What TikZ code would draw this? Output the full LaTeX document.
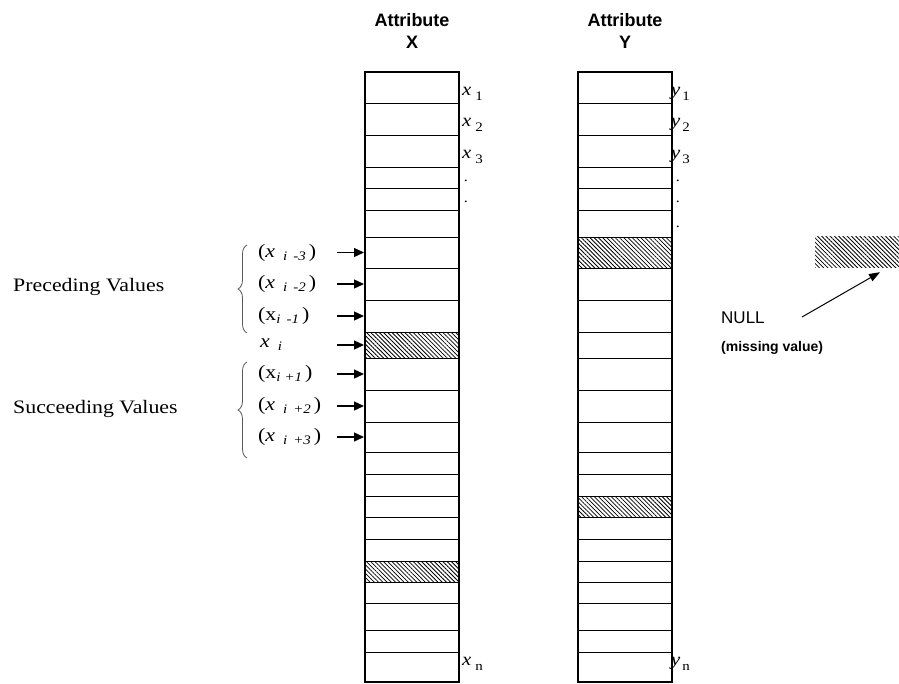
\documentclass[tikz,border=0pt]{standalone}
\usepackage{fontspec}
\setmainfont{Liberation Serif}
\newfontfamily\hdrfont{Liberation Sans}
\newfontfamily\wideserif[FakeStretch=1.15]{Liberation Serif}
\usetikzlibrary{arrows.meta,patterns.meta,decorations.pathreplacing}
\newcommand\lowsub[1]{\raisebox{-3pt}{\fontsize{13}{13}\selectfont\itshape #1}}
\newcommand\rsub[1]{\raisebox{-5pt}{\fontsize{13}{13}\selectfont #1}}
\tikzset{
  cell/.style={draw=black,line width=0.9pt,minimum width=94pt,inner sep=0pt,outer sep=0pt,rectangle},
  cellplain/.style={},
  cellhatch/.style={pattern={Lines[angle=-45,distance=3pt,line width=0.8pt]}},
  hdr/.style={font=\hdrfont\bfseries\fontsize{18}{22}\selectfont,align=center,inner sep=0pt},
  rlab/.style={font=\wideserif\fontsize{18}{18}\selectfont,anchor=base west,inner sep=0pt},
  llab/.style={font=\wideserif\fontsize{19}{19}\selectfont,anchor=west,inner sep=0pt},
  grp/.style={font=\wideserif\fontsize{19}{19}\selectfont,anchor=west,inner sep=0pt},
  dotlab/.style={font=\wideserif\fontsize{14}{14}\selectfont,inner sep=0pt},
  arr/.style={line width=1.3pt,-{Triangle[length=10pt,width=9pt]}},
  bracestyle/.style={draw=black!65,line width=0.8pt,decorate,decoration={brace,amplitude=9pt}},
}
\begin{document}
\begin{tikzpicture}[x=1pt,y=-1pt]
\useasboundingbox (0,0) rectangle (899,683);
% columns
\foreach \t/\b/\xs/\ys [count=\i] in {
  72/103/cellplain/cellplain,103/135/cellplain/cellplain,135/167/cellplain/cellplain,
  167/188/cellplain/cellplain,188/210/cellplain/cellplain,210/237/cellplain/cellplain,
  237/268/cellplain/cellhatch,268/300/cellplain/cellplain,300/332/cellplain/cellplain,
  332/358/cellhatch/cellplain,358/390/cellplain/cellplain,390/422/cellplain/cellplain,
  422/452/cellplain/cellplain,452/474/cellplain/cellplain,474/496/cellplain/cellplain,
  496/517/cellplain/cellhatch,517/539/cellplain/cellplain,539/561/cellplain/cellplain,
  561/582/cellhatch/cellplain,582/603/cellplain/cellplain,603/630/cellplain/cellplain,
  630/652/cellplain/cellplain,652/682/cellplain/cellplain}
{
  \node[cell,\xs,minimum height={(\b-\t)*1pt}] (X\i) at (412,{(\t+\b)/2}) {};
  \node[cell,\ys,minimum height={(\b-\t)*1pt}] (Y\i) at (625,{(\t+\b)/2}) {};
}
\draw[line width=1.2pt] (X1.north west) rectangle (X23.south east);
\draw[line width=1.2pt] (Y1.north west) rectangle (Y23.south east);
% headers
\node[hdr] (hx) at (412,31) {Attribute\\X};
\node[hdr] (hy) at (625,31) {Attribute\\Y};
% right labels X
\node[rlab] (x1) at ([xshift=3pt,yshift=8pt]X1.south east) {\textit{x}\hspace{4pt}\rsub{1}};
\node[rlab] (x2) at ([xshift=3pt,yshift=9pt]X2.south east) {\textit{x}\hspace{4pt}\rsub{2}};
\node[rlab] (x3) at ([xshift=3pt,yshift=9pt]X3.south east) {\textit{x}\hspace{4pt}\rsub{3}};
\node[dotlab] (xd1) at (466,181) {.};
\node[dotlab] (xd2) at (466,202) {.};
\node[rlab] (xn) at ([xshift=3pt,yshift=17pt]X23.south east) {\textit{x}\hspace{4pt}\rsub{n}};
% right labels Y
\node[rlab] (y1) at ([xshift=-1pt,yshift=8pt]Y1.south east) {\textit{y}\hspace{2pt}\rsub{1}};
\node[rlab] (y2) at ([xshift=-1pt,yshift=9pt]Y2.south east) {\textit{y}\hspace{2pt}\rsub{2}};
\node[rlab] (y3) at ([xshift=-1pt,yshift=9pt]Y3.south east) {\textit{y}\hspace{2pt}\rsub{3}};
\node[dotlab] (yd1) at (678,181) {.};
\node[dotlab] (yd2) at (678,202) {.};
\node[dotlab] (yd3) at (678,227) {.};
\node[rlab] (yn) at ([xshift=-1pt,yshift=17pt]Y23.south east) {\textit{y}\hspace{2pt}\rsub{n}};
% left labels
\node[llab] (lp3) at (258,0 |- X7.west) {(\textit{x}\hspace{8pt}\lowsub{i}\hspace{6pt}\lowsub{-3}\hspace{3pt})};
\node[llab] (lp2) at (258,0 |- X8.west) {(\textit{x}\hspace{8pt}\lowsub{i}\hspace{6pt}\lowsub{-2}\hspace{3pt})};
\node[llab] (lp1) at (258,0 |- X9.west) {(x\lowsub{i}\hspace{6pt}\lowsub{-1}\hspace{3pt})};
\node[llab] (li) at (260,0 |- X10.west) {\textit{x}\hspace{8pt}\lowsub{i}};
\node[llab] (ls1) at (258,0 |- X11.west) {(x\lowsub{i}\hspace{4pt}\lowsub{+1}\hspace{3pt})};
\node[llab] (ls2) at (258,0 |- X12.west) {(\textit{x}\hspace{8pt}\lowsub{i}\hspace{6pt}\lowsub{+2}\hspace{3pt})};
\node[llab] (ls3) at (258,0 |- X13.west) {(\textit{x}\hspace{8pt}\lowsub{i}\hspace{6pt}\lowsub{+3}\hspace{3pt})};
\foreach \r in {7,...,13}{
  \draw[arr] ([xshift=-28pt]X\r.west) -- ([xshift=-1pt]X\r.west);
}
% braces and group labels
\draw[bracestyle] (247,333) -- (247,245);
\draw[bracestyle] (247,458) -- (247,362);
\node[grp] (prec) at (13,287) {Preceding Values};
\node[grp] (succ) at (13,409) {Succeeding Values};
% NULL
\node[pattern={Lines[angle=-45,distance=3pt,line width=0.8pt]},minimum width=84pt,minimum height=31pt,inner sep=0pt] (nullbox) at (857,251.5) {};
\node[font=\hdrfont\fontsize{17}{17}\selectfont,anchor=west,inner sep=0pt] (nulltxt) at (721,318) {NULL};
\node[font=\hdrfont\bfseries\fontsize{14}{14}\selectfont,anchor=west,inner sep=0pt] (miss) at (721,348) {(missing value)};
\coordinate (nulltail) at (802,317);
\draw[line width=1pt,-{Triangle[length=11pt,width=8pt]}] (nulltail) -- ([xshift=23pt,yshift=-5pt]nullbox.south);
\end{tikzpicture}
\end{document}
